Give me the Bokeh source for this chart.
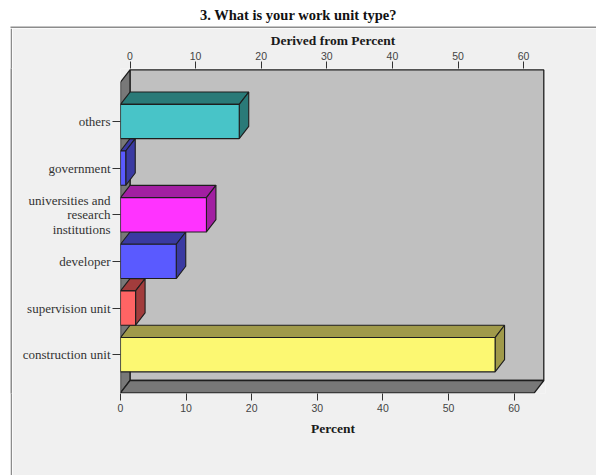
from bokeh.plotting import figure
from bokeh.layouts import column, row
from bokeh.models import Range1d, LinearAxis, FixedTicker, Spacer
from bokeh.core.properties import value
from bokeh.embed import file_html
from bokeh.resources import INLINE

# ---------------- data ----------------
categories = ["others", "government", "universities and\nresearch\ninstitutions",
              "developer", "supervision unit", "construction unit"]
percents = [18.1, 0.8, 13.1, 8.5, 2.3, 57.1]
front_colors = ["#48c4c8", "#5a5aff", "#ff33ff", "#5a5aff", "#ff6464", "#fcf872"]
side_colors = ["#2a7a78", "#3a3aa2", "#a21fa2", "#3a3aa2", "#a23c3c", "#a09a4a"]
x_ticks = [0, 10, 20, 30, 40, 50, 60]
title_text = "3. What is your work unit type?"
top_label = "Derived from Percent"
bottom_label = "Percent"

# ---------------- layout (pixels) ----------------
W, H = 596, 475
OX, OY = 12, 28                           # outer chart-area box corner
FL, FT, FR, FB = 120, 68, 545, 393        # plot frame box (page pixels)
PX_PER_UNIT = 6.56
PITCH = 46.64
Y0_PX = 354.2
DEPTH_X_PX, DEPTH_Y_PX = 9.5, 12.3
HALF_BAR_PX = 17.15
BORDER_GRAY = "#8c8c8c"
AREA_BG = "#f0f0f0"


def px2x(px):
    return (px - FL) / PX_PER_UNIT


def px2y(py):
    return (Y0_PX - py) / PITCH


DX = DEPTH_X_PX / PX_PER_UNIT
DY = DEPTH_Y_PX / PITCH
HH = HALF_BAR_PX / PITCH

# ---------------- title strip ----------------
tf = figure(width=W, height=OY, x_range=Range1d(0, W), y_range=Range1d(OY, 0),
            x_axis_location=None, y_axis_location=None, min_border=0,
            output_backend="svg", toolbar_location=None, tools="")
tf.outline_line_color = None
tf.background_fill_color = "white"
tf.border_fill_color = "white"
tf.xgrid.visible = False
tf.ygrid.visible = False
tf.quad(left=[OX - 2], right=[W], top=[OY - 2], bottom=[OY], fill_color=BORDER_GRAY,
        line_color=None)
tf.text(x=[298], y=[14], text=[title_text], text_align="center", text_baseline="middle",
        text_font=value("Liberation Serif"), text_font_style="bold",
        text_font_size="14.5px", text_color="#111111")

# ---------------- left border line ----------------
lf = figure(width=2, height=H - OY, x_range=Range1d(0, 2), y_range=Range1d(0, 1),
            x_axis_location=None, y_axis_location=None, min_border=0,
            output_backend="svg", toolbar_location=None, tools="")
lf.outline_line_color = None
lf.background_fill_color = BORDER_GRAY
lf.border_fill_color = BORDER_GRAY
lf.xgrid.visible = False
lf.ygrid.visible = False

# ---------------- main chart ----------------
p = figure(frame_width=FR - FL, frame_height=FB - FT,
           min_border_left=FL - OX, min_border_right=W - FR,
           min_border_top=FT - OY, min_border_bottom=H - FB,
           x_range=Range1d(0, px2x(FR)), y_range=Range1d(px2y(FB), px2y(FT)),
           output_backend="svg", toolbar_location=None, tools="")
p.extra_x_ranges = {"top": Range1d(-DX, px2x(FR) - DX)}
p.background_fill_color = AREA_BG
p.border_fill_color = AREA_BG
p.outline_line_color = None
p.xgrid.visible = False
p.ygrid.visible = False

EDGE = "#1e1e1e"
floor_front = px2y(392.3)
floor_back = floor_front + DY
wall_front_top = px2y(81.7)
wall_back_top = wall_front_top + DY
back_right = px2x(543.3)

p.quad(left=[DX], right=[back_right], bottom=[floor_back], top=[wall_back_top],
       fill_color="#c0c0c0", line_color=EDGE, line_width=1.3)
p.patch([0, DX, DX, 0], [wall_front_top, wall_back_top, floor_back, floor_front],
        fill_color="#787878", line_color=EDGE, line_width=1.3)
p.patch([0, DX, back_right, back_right - DX], [floor_front, floor_back, floor_back, floor_front],
        fill_color="#787878", line_color=EDGE, line_width=1.3)

n = len(categories)
positions = [n - 1 - i for i in range(n)]
order = sorted(range(n), key=lambda i: positions[i])
for i in order:
    v = percents[i]
    c = positions[i]
    p.patch([0, DX, v + DX, v], [c + HH, c + HH + DY, c + HH + DY, c + HH],
            fill_color=side_colors[i], line_color=EDGE, line_width=1.1)
    p.patch([v, v + DX, v + DX, v], [c - HH, c - HH + DY, c + HH + DY, c + HH],
            fill_color=side_colors[i], line_color=EDGE, line_width=1.1)
    p.quad(left=[0], right=[v], bottom=[c - HH], top=[c + HH],
           fill_color=front_colors[i], line_color=EDGE, line_width=1.1)


def style_num_axis(ax, label, label_standoff, tick_standoff):
    ax.ticker = FixedTicker(ticks=x_ticks)
    ax.axis_line_color = None
    ax.major_tick_line_color = "#333333"
    ax.major_tick_out = 7
    ax.major_tick_in = 0
    ax.minor_tick_line_color = None
    ax.major_label_text_font = "Liberation Sans"
    ax.major_label_text_font_size = "10.5px"
    ax.major_label_text_color = "#444444"
    ax.major_label_standoff = tick_standoff
    ax.axis_label = label
    ax.axis_label_text_font = "Liberation Serif"
    ax.axis_label_text_font_style = "bold"
    ax.axis_label_text_font_size = "13.5px"
    ax.axis_label_text_color = "#1a1a1a"
    ax.axis_label_standoff = label_standoff


style_num_axis(p.xaxis[0], bottom_label, 6, 3)
top_axis = LinearAxis(x_range_name="top")
style_num_axis(top_axis, top_label, 1, 2)
p.add_layout(top_axis, "above")

ya = p.yaxis[0]
ya.ticker = FixedTicker(ticks=positions)
ya.major_label_overrides = {positions[i]: categories[i] for i in range(n)}
ya.axis_line_color = None
ya.major_tick_line_color = "#333333"
ya.major_tick_out = 8
ya.major_tick_in = 0
ya.minor_tick_line_color = None
ya.major_label_standoff = 2
ya.major_label_text_font = "Liberation Serif"
ya.major_label_text_font_size = "13px"
ya.major_label_text_line_height = 0.95
ya.major_label_text_color = "#333333"

layout = column(tf, row(Spacer(width=OX - 2, height=H - OY), lf, p, spacing=0), spacing=0)
open("out.html", "w").write(file_html(layout, INLINE))
